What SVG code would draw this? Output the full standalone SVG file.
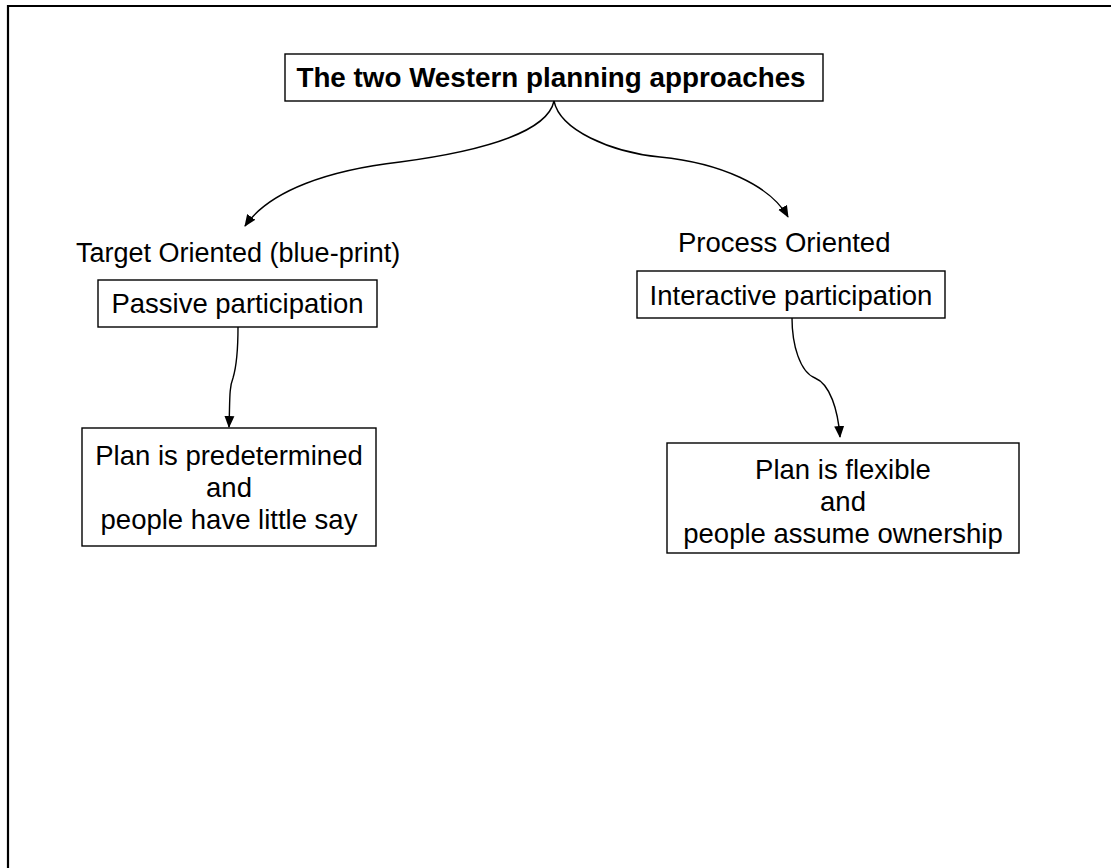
<svg xmlns="http://www.w3.org/2000/svg" width="1111" height="868" viewBox="0 0 1111 868">
  <style>
    .box { fill: #ffffff; stroke: #000000; stroke-width: 1.4; }
    .lbl { font-family: "Liberation Sans", Arial, sans-serif; font-size: 27.5px; fill: #000000; }
    .title { font-weight: bold; font-size: 27.8px; }
    .mid { text-anchor: middle; }
    .link { fill: none; stroke: #000000; stroke-width: 1.4; marker-end: url(#arrow); }
  </style>
  <defs>
    <marker id="arrow" markerUnits="userSpaceOnUse" markerWidth="12" markerHeight="12" viewBox="0 0 12 12" refX="11" refY="6" orient="auto">
      <path d="M0,1 L12,6 L0,11 Z" fill="#000000"/>
    </marker>
  </defs>

  <rect width="1111" height="868" fill="#ffffff"/>
  <!-- slide frame -->
  <path d="M8,868 V6 H1111" fill="none" stroke="#000000" stroke-width="2.2"/>

  <g id="title">
    <rect class="box" x="285" y="54" width="538" height="47"/>
    <text class="lbl title mid" x="551" y="87">The two Western planning approaches</text>
  </g>

  <g id="target-label">
    <text class="lbl" x="76" y="262" style="font-size:27px">Target Oriented (blue-print)</text>
  </g>

  <g id="process-label">
    <text class="lbl" x="678" y="252">Process Oriented</text>
  </g>

  <g id="passive">
    <rect class="box" x="98" y="280" width="279" height="47"/>
    <text class="lbl mid" x="237.5" y="313">Passive participation</text>
  </g>

  <g id="interactive">
    <rect class="box" x="637" y="271" width="308" height="47"/>
    <text class="lbl mid" x="791" y="305">Interactive participation</text>
  </g>

  <g id="predetermined">
    <rect class="box" x="82" y="428" width="294" height="118"/>
    <text class="lbl mid" x="229" y="465">Plan is predetermined</text>
    <text class="lbl mid" x="229" y="497">and</text>
    <text class="lbl mid" x="229" y="529">people have little say</text>
  </g>

  <g id="flexible">
    <rect class="box" x="667" y="443" width="352" height="110"/>
    <text class="lbl mid" x="843" y="479">Plan is flexible</text>
    <text class="lbl mid" x="843" y="511">and</text>
    <text class="lbl mid" x="843" y="543">people assume ownership</text>
  </g>

  <g id="connectors">
    <path class="link" d="M554,101 C548,130 490,150 400,162 C330,170 270,190 245,226"/>
    <path class="link" d="M554,101 C560,130 610,152 660,157 C720,163 770,185 788,217"/>
    <path class="link" d="M238,327 C238,350 236,368 233,378 C229,388 230,400 229,427"/>
    <path class="link" d="M792,318 C792,345 800,372 815,378 C830,384 838,410 840,437"/>
  </g>
</svg>
